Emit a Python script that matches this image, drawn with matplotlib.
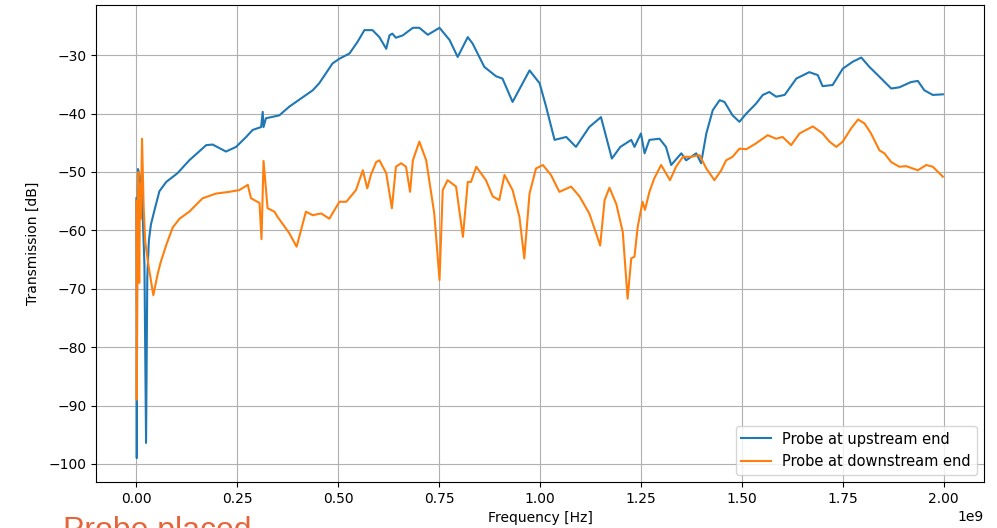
import matplotlib
matplotlib.use("Agg")
import matplotlib.pyplot as plt
import numpy as np

# Transmission measured with the probe at the upstream end (frequency in GHz, level in dB)
up_freq_ghz = [0.0, 0.001, 0.002, 0.004, 0.006, 0.009, 0.012, 0.016, 0.020, 0.024, 0.027,
               0.031, 0.036, 0.045, 0.057, 0.074, 0.102, 0.131, 0.173, 0.189, 0.222, 0.247,
               0.272, 0.288, 0.309, 0.313, 0.315, 0.321, 0.354, 0.379, 0.408, 0.437, 0.453,
               0.486, 0.503, 0.528, 0.548, 0.565, 0.585, 0.602, 0.619, 0.627, 0.634, 0.643,
               0.660, 0.685, 0.701, 0.722, 0.751, 0.776, 0.796, 0.821, 0.833, 0.862, 0.891,
               0.907, 0.932, 0.974, 0.999, 1.015, 1.036, 1.065, 1.089, 1.122, 1.151, 1.178,
               1.199, 1.226, 1.234, 1.250, 1.259, 1.271, 1.296, 1.312, 1.325, 1.350, 1.362,
               1.387, 1.399, 1.412, 1.428, 1.445, 1.457, 1.477, 1.494, 1.511, 1.535, 1.552,
               1.568, 1.585, 1.606, 1.635, 1.667, 1.688, 1.700, 1.725, 1.750, 1.775, 1.796,
               1.816, 1.841, 1.870, 1.890, 1.919, 1.936, 1.952, 1.973, 1.998]
up_db = [-54.5, -99.0, -62.0, -49.5, -50.0, -56.0, -50.5, -58.0, -66.0, -96.4, -68.0,
         -61.7, -59.0, -56.5, -53.3, -51.7, -50.2, -48.0, -45.4, -45.3, -46.5, -45.7,
         -44.0, -42.8, -42.3, -39.7, -42.3, -40.8, -40.3, -38.8, -37.4, -36.0, -34.8,
         -31.4, -30.6, -29.7, -27.7, -25.7, -25.7, -26.9, -28.9, -26.6, -26.3, -27.0,
         -26.6, -25.3, -25.3, -26.5, -25.3, -27.4, -30.3, -26.9, -28.0, -32.0, -33.6,
         -34.0, -38.0, -32.6, -34.8, -38.8, -44.5, -44.0, -45.7, -42.3, -40.6, -47.7,
         -45.7, -44.5, -45.7, -43.4, -46.8, -44.5, -44.3, -45.7, -48.8, -46.8, -48.0,
         -46.8, -48.5, -43.4, -39.4, -37.7, -38.0, -40.3, -41.4, -40.0, -38.3, -36.8,
         -36.3, -37.1, -36.8, -34.0, -32.9, -33.4, -35.3, -35.1, -32.3, -31.1, -30.4,
         -32.0, -33.7, -35.7, -35.5, -34.6, -34.4, -36.0, -36.8, -36.7]

# Transmission measured with the probe at the downstream end
down_freq_ghz = [0.0, 0.001, 0.002, 0.003, 0.005, 0.007, 0.009, 0.011, 0.014, 0.018, 0.022,
                 0.030, 0.042, 0.053, 0.060, 0.074, 0.090, 0.107, 0.131, 0.164, 0.197, 0.230,
                 0.255, 0.276, 0.284, 0.305, 0.310, 0.315, 0.325, 0.342, 0.350, 0.379, 0.397,
                 0.420, 0.437, 0.458, 0.478, 0.503, 0.520, 0.544, 0.561, 0.572, 0.581, 0.594,
                 0.602, 0.619, 0.633, 0.643, 0.656, 0.668, 0.678, 0.685, 0.701, 0.718, 0.738,
                 0.751, 0.759, 0.771, 0.792, 0.809, 0.821, 0.829, 0.842, 0.866, 0.883, 0.899,
                 0.912, 0.932, 0.949, 0.961, 0.974, 0.990, 1.007, 1.027, 1.048, 1.077, 1.098,
                 1.122, 1.139, 1.149, 1.160, 1.172, 1.189, 1.205, 1.217, 1.226, 1.234, 1.242,
                 1.254, 1.260, 1.271, 1.283, 1.300, 1.312, 1.322, 1.337, 1.354, 1.374, 1.395,
                 1.412, 1.432, 1.449, 1.461, 1.477, 1.494, 1.511, 1.535, 1.564, 1.585, 1.601,
                 1.622, 1.643, 1.659, 1.676, 1.700, 1.717, 1.734, 1.750, 1.771, 1.788, 1.804,
                 1.820, 1.841, 1.853, 1.870, 1.890, 1.907, 1.936, 1.957, 1.973, 1.998]
down_db = [-55.0, -89.0, -70.0, -55.0, -50.0, -69.0, -52.0, -58.0, -44.3, -56.0, -62.0,
           -66.0, -71.1, -67.4, -65.5, -62.5, -59.5, -58.0, -56.8, -54.5, -53.7, -53.4,
           -53.1, -52.2, -54.5, -55.3, -61.5, -48.1, -56.2, -56.8, -57.7, -60.5, -62.8,
           -56.8, -57.4, -57.1, -58.0, -55.1, -55.1, -53.1, -49.7, -52.8, -50.5, -48.3,
           -48.0, -50.2, -56.2, -49.1, -48.5, -49.1, -53.4, -48.0, -44.8, -48.0, -57.1,
           -68.5, -53.1, -51.4, -52.5, -61.1, -51.7, -51.7, -49.1, -51.4, -54.2, -54.8,
           -50.5, -53.1, -57.7, -64.8, -53.7, -49.4, -48.8, -50.5, -53.4, -52.5, -54.2,
           -57.1, -60.5, -62.6, -54.8, -52.7, -55.5, -60.3, -71.7, -64.8, -64.5, -59.4,
           -55.1, -56.5, -53.4, -51.1, -48.8, -50.2, -51.4, -49.1, -47.4, -47.4, -47.1,
           -49.4, -51.4, -49.7, -48.0, -47.4, -46.0, -46.1, -45.1, -43.7, -44.3, -44.0,
           -45.4, -43.4, -42.8, -42.2, -43.4, -44.8, -45.7, -44.8, -42.5, -41.0, -41.7,
           -43.4, -46.3, -46.8, -48.3, -49.1, -49.0, -49.7, -48.8, -49.1, -50.8]

series_labels = ["Probe at upstream end", "Probe at downstream end"]
x_label = "Frequency [Hz]"
y_label = "Transmission [dB]"
caption = "Probe placed"

fig = plt.figure(figsize=(9.97, 5.28), dpi=100)
ax = fig.add_axes([0.0963, 0.0871, 0.8907, 0.9034])

ax.plot(np.array(up_freq_ghz) * 1e9, up_db, color="tab:blue", lw=1.5, label=series_labels[0])
ax.plot(np.array(down_freq_ghz) * 1e9, down_db, color="tab:orange", lw=1.5, label=series_labels[1])

ax.set_xlim(-0.1e9, 2.1e9)
ax.set_ylim(-103.1, -21.4)
ax.set_xticks(np.arange(0, 2.01e9, 0.25e9))
ax.set_yticks(np.arange(-100, -29, 10))
ax.grid(True)
ax.set_xlabel(x_label, labelpad=4)
ax.set_ylabel(y_label, labelpad=6)
ax.legend(loc="lower right", fontsize=10.5)

fig.text(63 / 997, 1 - 516 / 528, caption, color="#E5643A", fontsize=23,
         family=["Liberation Sans", "DejaVu Sans"], va="top", ha="left")

fig.savefig("out.png", dpi=100)
